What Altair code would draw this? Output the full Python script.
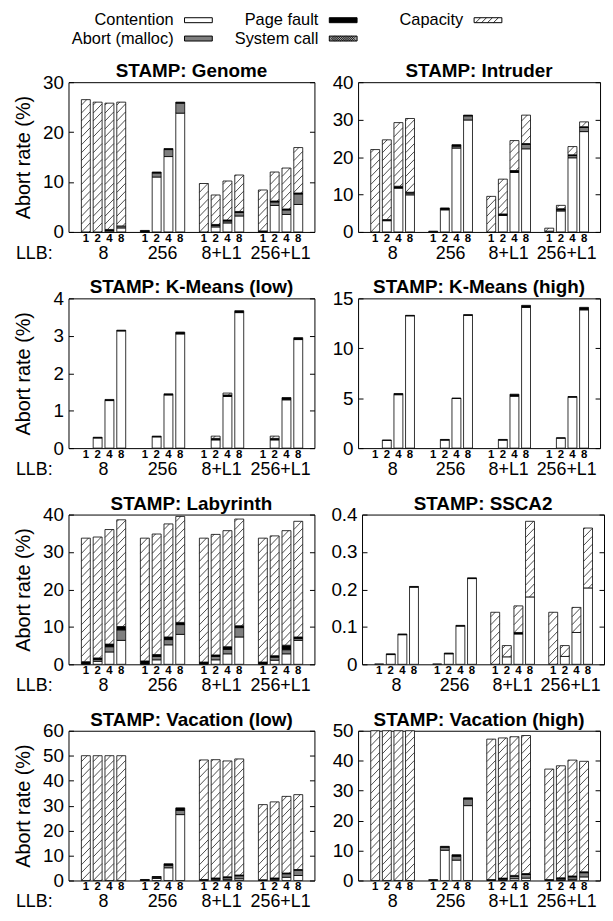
import altair as alt
import numpy as np
import pandas as pd

FONT = "Liberation Sans"

CATEGORIES = ["Contention", "Abort (malloc)", "Page fault", "System call", "Capacity"]
FILLS = ["#ffffff", "#7f7f7f", "#000000", "#a8a8a8", "#ffffff"]
THREADS = ["1", "2", "4", "8"]
LLB_GROUPS = ["8", "256", "8+L1", "256+L1"]
LLB_PREFIX = "LLB:"
Y_TITLE = "Abort rate (%)"

GENOME = {
    "Contention":     [0, 0, 0.2, 0.8,   0.1, 11.0, 15.1, 23.8,   0, 1.0, 1.8, 3.2,   0, 5.3, 3.5, 5.5],
    "Abort (malloc)": [0, 0, 0, 0.4,     0, 0.8, 1.4, 2.0,        0, 0.3, 0.4, 0.7,   0, 0.7, 0.9, 2.1],
    "Page fault":     [0, 0, 0.3, 0,     0.2, 0.2, 0.2, 0.2,      0, 0.2, 0.2, 0.2,   0.2, 0.2, 0.2, 0.2],
    "System call":    [0, 0, 0, 0,       0, 0, 0, 0,              0, 0, 0, 0,         0, 0, 0, 0],
    "Capacity":       [26.5, 26.0, 25.3, 24.8,  0, 0, 0, 0,       9.7, 5.9, 7.8, 7.3, 8.2, 5.8, 8.2, 9.1],
}
INTRUDER = {
    "Contention":     [0, 3.0, 11.7, 9.9,   0, 5.9, 22.4, 29.9,   0, 4.4, 15.9, 22.2,   0.2, 5.6, 19.8, 26.8],
    "Abort (malloc)": [0, 0, 0, 0.5,        0, 0, 0.5, 1.1,       0, 0, 0, 1.2,         0, 0.3, 0.6, 1.1],
    "Page fault":     [0, 0.3, 0.5, 0.2,    0.2, 0.5, 0.4, 0.2,   0, 0.4, 0.5, 0.2,     0, 0.3, 0.2, 0.2],
    "System call":    [0, 0, 0, 0,          0, 0, 0, 0,           0, 0, 0, 0,           0, 0, 0, 0],
    "Capacity":       [22.0, 21.3, 17.0, 19.7,  0, 0, 0, 0,       9.5, 9.3, 8.0, 7.6,   0.8, 0.9, 2.2, 1.3],
}
KMEANS_LOW = {
    "Contention":     [0, 0.27, 1.27, 3.13,  0, 0.30, 1.42, 3.05,  0, 0.22, 1.38, 3.62,  0, 0.22, 1.29, 2.90],
    "Abort (malloc)": [0, 0, 0, 0,           0, 0, 0, 0,           0, 0, 0, 0,           0, 0, 0, 0],
    "Page fault":     [0, 0.02, 0.03, 0.02,  0, 0.02, 0.03, 0.05,  0, 0.04, 0.04, 0.05,  0, 0.04, 0.06, 0.05],
    "System call":    [0, 0, 0, 0,           0, 0, 0, 0,           0, 0, 0, 0,           0, 0, 0, 0],
    "Capacity":       [0, 0, 0, 0,           0, 0, 0, 0,           0, 0.06, 0.05, 0,     0, 0.06, 0, 0],
}
KMEANS_HIGH = {
    "Contention":     [0, 0.78, 5.35, 13.25,  0, 0.80, 4.98, 13.3,  0, 0.80, 5.20, 14.1,  0, 1.0, 5.10, 13.85],
    "Abort (malloc)": [0, 0, 0, 0,            0, 0, 0, 0,           0, 0, 0, 0,           0, 0, 0, 0],
    "Page fault":     [0, 0.02, 0.12, 0.05,   0, 0.07, 0.02, 0.07,  0, 0.07, 0.20, 0.20,  0, 0.03, 0.07, 0.25],
    "System call":    [0, 0, 0, 0,            0, 0, 0, 0,           0, 0, 0, 0,           0, 0, 0, 0],
    "Capacity":       [0, 0, 0, 0,            0, 0, 0, 0,           0, 0, 0, 0,           0, 0, 0, 0],
}
LABYRINTH = {
    "Contention":     [0.1, 0.8, 3.3, 6.4,   0.1, 1.2, 5.2, 8.0,   0.1, 1.2, 2.8, 7.3,   0.1, 1.1, 2.8, 6.4],
    "Abort (malloc)": [0, 0.5, 1.4, 2.8,     0, 0.9, 1.4, 2.6,     0, 0.9, 1.2, 2.5,     0, 0.8, 1.1, 0.5],
    "Page fault":     [0.6, 0.4, 0.7, 0.9,   0.8, 0.5, 0.7, 0.6,   0.5, 0.4, 0.7, 0.5,   0.5, 0.4, 1.2, 0.4],
    "System call":    [0, 0, 0, 0,           0, 0, 0, 0,           0, 0, 0, 0,           0, 0, 0, 0],
    "Capacity":       [33.0, 32.3, 30.6, 28.5,  32.8, 32.2, 30.2, 28.3,  33.1, 32.2, 31.0, 28.5,  33.1, 32.0, 30.6, 30.9],
}
SSCA2 = {
    "Contention":     [0.001, 0.026, 0.079, 0.206,  0.001, 0.028, 0.102, 0.229,  0, 0.020, 0.081, 0.180,  0, 0.021, 0.085, 0.204],
    "Abort (malloc)": [0, 0, 0, 0,                  0, 0, 0, 0,                  0, 0, 0, 0,              0, 0, 0, 0],
    "Page fault":     [0, 0.002, 0.002, 0.002,      0, 0.002, 0.002, 0.002,      0, 0, 0.004, 0,          0, 0, 0, 0],
    "System call":    [0, 0, 0, 0,                  0, 0, 0, 0,                  0, 0, 0, 0,              0, 0, 0, 0],
    "Capacity":       [0, 0, 0, 0,                  0, 0, 0, 0,                  0.139, 0.030, 0.071, 0.202,  0.139, 0.029, 0.067, 0.160],
}
VACATION_LOW = {
    "Contention":     [0, 0, 0, 0,       0.1, 0.8, 5.1, 26.4,   0, 0.3, 0.5, 0.7,     0, 0.3, 1.3, 2.0],
    "Abort (malloc)": [0, 0, 0, 0,       0, 0.5, 1.0, 1.7,      0, 0.4, 0.7, 1.2,     0, 0.4, 1.4, 2.1],
    "Page fault":     [0, 0, 0, 0,       0.3, 0.3, 0.6, 1.0,    0.4, 0.3, 0.3, 0.3,   0.3, 0.3, 0.3, 0.3],
    "System call":    [0, 0, 0, 0,       0, 0, 0, 0,            0, 0, 0, 0,           0, 0, 0, 0],
    "Capacity":       [50.0, 50.0, 50.0, 50.0,  0, 0, 0, 0,     47.9, 47.4, 46.4, 46.5,  30.1, 30.5, 30.7, 30.0],
}
VACATION_HIGH = {
    "Contention":     [0, 0, 0, 0,       0, 10.1, 6.8, 25.0,    0, 0.2, 0.6, 0.8,     0, 0.2, 0.4, 1.2],
    "Abort (malloc)": [0, 0, 0, 0,       0, 1.0, 1.3, 2.2,      0, 0.3, 0.8, 1.2,     0, 0.4, 0.8, 1.4],
    "Page fault":     [0, 0, 0, 0,       0.3, 0.3, 0.5, 0.4,    0.3, 0.3, 0.3, 0.3,   0.3, 0.3, 0.3, 0.3],
    "System call":    [0, 0, 0, 0,       0, 0, 0, 0,            0, 0, 0, 0,           0, 0, 0, 0],
    "Capacity":       [50.0, 50.0, 50.0, 50.0,  0, 0, 0, 0,     46.9, 46.8, 46.3, 46.1,  36.9, 37.4, 38.7, 36.9],
}

PANELS = [
    ("STAMP: Genome", GENOME, 30, 10),
    ("STAMP: Intruder", INTRUDER, 40, 10),
    ("STAMP: K-Means (low)", KMEANS_LOW, 4, 1),
    ("STAMP: K-Means (high)", KMEANS_HIGH, 15, 5),
    ("STAMP: Labyrinth", LABYRINTH, 40, 10),
    ("STAMP: SSCA2", SSCA2, 0.4, 0.1),
    ("STAMP: Vacation (low)", VACATION_LOW, 60, 10),
    ("STAMP: Vacation (high)", VACATION_HIGH, 50, 10),
]

H = 151
W_LEFT, W_RIGHT = 248, 244
X_UNITS = 20
BAR_PX = 9
HATCH_SP = 8
FIRST = 1.05


def bar_pos(g, i):
    return g * 5 + i + FIRST


def panel(title, data, ymax, step, left):
    W = W_LEFT if left else W_RIGHT
    pxx, pxy = W / X_UNITS, H / ymax
    rows = []
    for g in range(len(LLB_GROUPS)):
        for i in range(len(THREADS)):
            k = g * len(THREADS) + i
            base = 0.0
            for cat in CATEGORIES:
                v = data[cat][k]
                if v > 0:
                    rows.append(dict(pos=bar_pos(g, i), y0=base,
                                     y1=min(base + v, ymax), cat=cat))
                base += v
    bars_df = pd.DataFrame(rows)

    # diagonal hatching of the capacity segments (45 degrees in pixel space)
    hatch = []
    for r in rows:
        if r["cat"] != "Capacity":
            continue
        h_px = (r["y1"] - r["y0"]) * pxy
        left_px = r["pos"] * pxx - BAR_PX / 2
        v0 = r["y0"] * pxy
        kmin = int(np.floor((v0 - BAR_PX) / HATCH_SP))
        kmax = int(np.ceil((v0 + h_px) / HATCH_SP))
        for kk in range(kmin, kmax + 1):
            c = kk * HATCH_SP - v0
            us = max(0.0, -c)
            ue = min(float(BAR_PX), h_px - c)
            if ue - us < 0.4:
                continue
            hatch.append(dict(x=(left_px + us) / pxx, x2=(left_px + ue) / pxx,
                              y=(v0 + c + us) / pxy, y2=(v0 + c + ue) / pxy))
    hatch_df = pd.DataFrame(hatch, columns=["x", "x2", "y", "y2"])

    ticks = [round(float(t), 6) for t in np.arange(0, ymax + step / 2, step)]
    x_scale = alt.Scale(domain=[0, X_UNITS], nice=False, zero=False)
    y_scale = alt.Scale(domain=[0, ymax], nice=False, zero=True)

    yaxis = alt.Axis(orient="left", offset=-5, tickSize=5, tickColor="black",
                     values=ticks, format="~f", labelFontSize=19, labelPadding=5,
                     labelColor="black", domain=False, grid=False,
                     minExtent=32, maxExtent=32,
                     title=Y_TITLE if left else None, titleFontSize=20,
                     titleFontWeight="normal", titlePadding=8, titleColor="black")

    bars = alt.Chart(bars_df).mark_bar(size=BAR_PX, stroke="black", strokeWidth=0.8).encode(
        x=alt.X("pos:Q", scale=x_scale, axis=None),
        y=alt.Y("y0:Q", scale=y_scale, axis=yaxis),
        y2="y1:Q",
        fill=alt.Fill("cat:N", scale=alt.Scale(domain=CATEGORIES, range=FILLS), legend=None),
    )
    hatch_layer = alt.Chart(hatch_df).mark_rule(stroke="black", strokeWidth=0.7).encode(
        x=alt.X("x:Q", scale=x_scale, axis=None),
        x2="x2:Q",
        y=alt.Y("y:Q", scale=y_scale, axis=None),
        y2="y2:Q",
    )
    mirror = alt.Chart(pd.DataFrame({"t": ticks})).mark_rule(opacity=0).encode(
        y=alt.Y("t:Q", scale=y_scale,
                axis=alt.Axis(orient="right", offset=-5, tickSize=5, tickColor="black",
                              values=ticks, labels=False, domain=False, grid=False,
                              title=None, minExtent=0, maxExtent=0)),
    )
    thr_df = pd.DataFrame({"p": [bar_pos(g, i) for g in range(4) for i in range(4)],
                           "label": THREADS * 4})
    thr = alt.Chart(thr_df).mark_text(fontSize=11.5, fontWeight="bold", font=FONT,
                                      baseline="middle", color="black").encode(
        x=alt.X("p:Q", scale=x_scale, axis=None),
        y=alt.value(H + 7),
        text="label:N",
    )
    grp_df = pd.DataFrame({"c": [g * 5 + FIRST + 1.5 for g in range(4)], "label": LLB_GROUPS})
    grp = alt.Chart(grp_df).mark_text(fontSize=18, font=FONT, baseline="middle", color="black").encode(
        x=alt.X("c:Q", scale=x_scale, axis=None),
        y=alt.value(H + 22),
        text="label:N",
    )
    layers = [bars, hatch_layer, mirror, thr, grp]
    if left:
        llb = alt.Chart(pd.DataFrame({"t": [LLB_PREFIX]})).mark_text(
            fontSize=18, font=FONT, align="right", baseline="middle", color="black").encode(
            x=alt.value(-16), y=alt.value(H + 22), text="t:N")
        layers.append(llb)
    return alt.layer(*layers).resolve_axis(y="independent").properties(
        width=W, height=H,
        title=alt.TitleParams(title, fontSize=19, fontWeight="bold", font=FONT,
                              offset=-8, anchor="middle", color="black"),
    )


# legend: its origin is aligned with the left panels' plot area
leg_df = pd.DataFrame({"cat": CATEGORIES,
                       "col": [i // 2 for i in range(len(CATEGORIES))],
                       "row": [i % 2 for i in range(len(CATEGORIES))]})
lx = alt.X("col:Q", scale=alt.Scale(domain=[0, 2], range=[131, 423]), axis=None)
ly = alt.Y("row:Q", scale=alt.Scale(domain=[0, 1], range=[6.5, 25]), axis=None)
SW, SH = 14, 2.5

leg_layers = [
    alt.Chart(leg_df).mark_rect(xOffset=-SW, x2Offset=SW, yOffset=-SH, y2Offset=SH,
                                stroke="black", strokeWidth=1).encode(
        x=lx, x2="col:Q", y=ly, y2="row:Q",
        fill=alt.Fill("cat:N", scale=alt.Scale(domain=CATEGORIES, range=FILLS), legend=None))
]
for u in [-12.5, -6.5, -0.5, 5.5]:
    leg_layers.append(
        alt.Chart(leg_df).transform_filter(alt.datum.cat == "Capacity").mark_rule(
            xOffset=u, x2Offset=u + 2 * SH, yOffset=SH, y2Offset=-SH,
            stroke="black", strokeWidth=0.8).encode(x=lx, x2="col:Q", y=ly, y2="row:Q"))
for u in np.arange(-SW, SW - 2 * SH + 0.1, 2.2):
    for sgn in (1, -1):
        leg_layers.append(
            alt.Chart(leg_df).transform_filter(alt.datum.cat == "System call").mark_rule(
                xOffset=float(u), x2Offset=float(u) + 2 * SH, yOffset=sgn * SH, y2Offset=-sgn * SH,
                stroke="black", strokeWidth=0.6).encode(x=lx, x2="col:Q", y=ly, y2="row:Q"))
leg_layers.append(
    alt.Chart(leg_df).mark_text(align="right", baseline="middle", dx=-25, fontSize=16.5,
                                font=FONT, color="black").encode(x=lx, y=ly, text="cat:N"))
legend = alt.layer(*leg_layers).properties(
    width=460, height=30, view=alt.ViewBackground(stroke="transparent"))

rows = []
for r in range(4):
    lt, ld, lm, ls = PANELS[2 * r]
    rt, rd, rm, rs = PANELS[2 * r + 1]
    rows.append(alt.hconcat(panel(lt, ld, lm, ls, True), panel(rt, rd, rm, rs, False), spacing=15))

chart = alt.vconcat(legend, *rows, spacing=14).properties(
    padding={"left": 5, "top": 0, "right": 0, "bottom": 0}
).configure_view(stroke="black", strokeWidth=1).configure_axis(
    labelFont=FONT, titleFont=FONT).configure_title(font=FONT)

chart.save("out.html", embed_options={"renderer": "svg", "actions": False})
